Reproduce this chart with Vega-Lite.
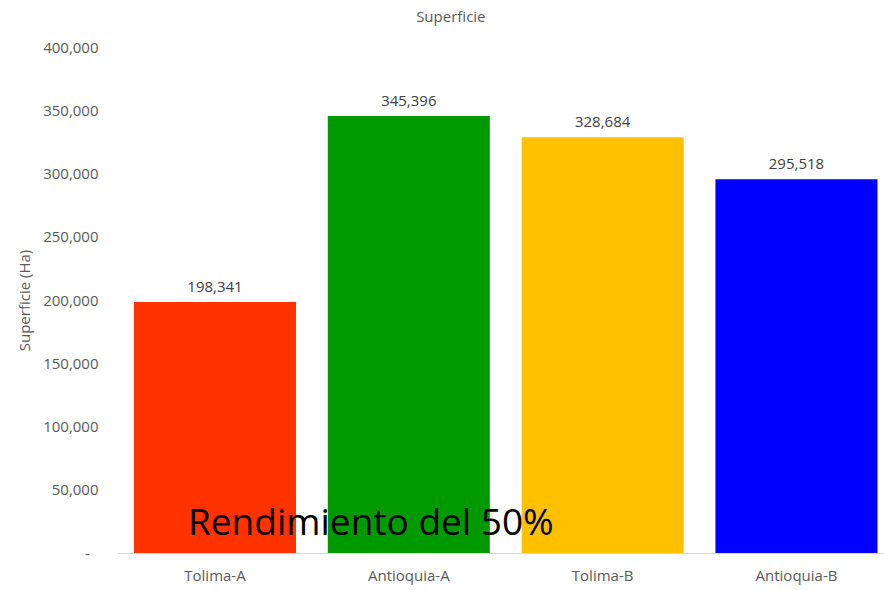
{
  "$schema": "https://vega.github.io/schema/vega-lite/v6.json",
  "width": 766,
  "height": 506,
  "autosize": {"type": "none"},
  "padding": {"left": 118, "top": 47, "right": 0, "bottom": 37},
  "background": "white",
  "config": {
    "view": {"stroke": null},
    "font": "Open Sans"
  },
  "title": {
    "text": "Superficie",
    "frame": "bounds",
    "anchor": "middle",
    "fontSize": 15,
    "fontWeight": "normal",
    "color": "#595959",
    "offset": 15,
    "font": "Open Sans"
  },
  "data": {
    "values": [
      {"region": "Tolima-A", "superficie": 198341},
      {"region": "Antioquia-A", "superficie": 345396},
      {"region": "Tolima-B", "superficie": 328684},
      {"region": "Antioquia-B", "superficie": 295518}
    ]
  },
  "layer": [
    {
      "mark": {"type": "bar"},
      "encoding": {
        "x": {
          "field": "region",
          "type": "nominal",
          "sort": null,
          "scale": {"paddingInner": 0.164, "paddingOuter": 0.058, "align": 0.71},
          "axis": {
            "title": null,
            "labelAngle": 0,
            "labelFontSize": 15,
            "labelColor": "#595959",
            "labelFont": "Open Sans",
            "labelPadding": 15,
            "ticks": false,
            "domainColor": "#d9d9d9",
            "domainWidth": 1
          }
        },
        "y": {
          "field": "superficie",
          "type": "quantitative",
          "scale": {"domain": [0, 400000]},
          "axis": {
            "title": "Superficie (Ha)",
            "titleFontSize": 15,
            "titleFontWeight": "normal",
            "titleColor": "#595959",
            "titleFont": "Open Sans",
            "titlePadding": 10,
            "values": [0, 50000, 100000, 150000, 200000, 250000, 300000, 350000, 400000],
            "format": ",.0f",
            "labelExpr": "datum.value === 0 ? '-\u2007\u2060' : datum.label",
            "labelFontSize": 15,
            "labelColor": "#595959",
            "labelFont": "Open Sans",
            "labelPadding": 20,
            "ticks": false,
            "domain": false,
            "grid": false
          }
        },
        "color": {
          "field": "region",
          "type": "nominal",
          "scale": {
            "domain": ["Tolima-A", "Antioquia-A", "Tolima-B", "Antioquia-B"],
            "range": ["#FF3300", "#009900", "#FFC000", "#0000FF"]
          },
          "legend": null
        }
      }
    },
    {
      "mark": {"type": "text", "baseline": "alphabetic", "dy": -10, "fontSize": 15, "color": "#404040", "font": "Open Sans"},
      "encoding": {
        "x": {"field": "region", "type": "nominal", "sort": null},
        "y": {"field": "superficie", "type": "quantitative"},
        "text": {"field": "superficie", "type": "quantitative", "format": ",.0f"}
      }
    },
    {
      "data": {"values": [{"label": "Rendimiento del 50%"}]},
      "mark": {"type": "text", "align": "left", "baseline": "alphabetic", "dx": -27, "fontSize": 37, "color": "#000000", "font": "Open Sans"},
      "encoding": {
        "x": {"datum": "Tolima-A", "type": "nominal"},
        "y": {"datum": 14200, "type": "quantitative"},
        "text": {"field": "label", "type": "nominal"}
      }
    }
  ]
}
